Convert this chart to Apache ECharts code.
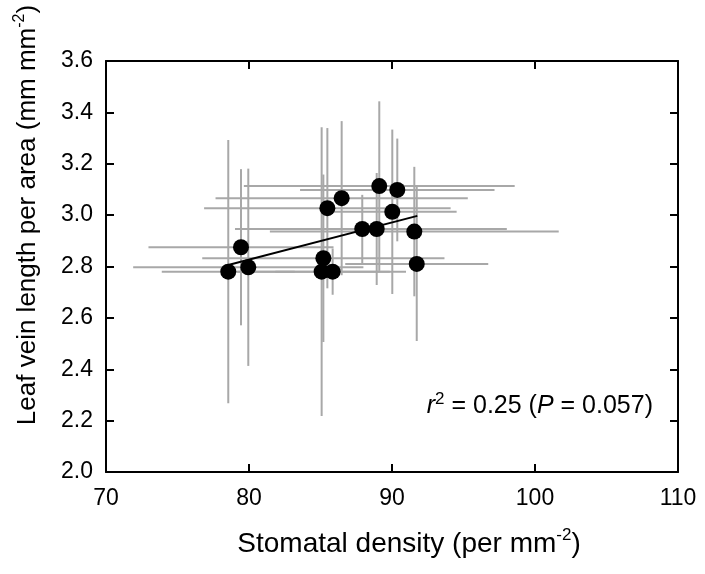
<!DOCTYPE html>
<html>
<head>
<meta charset="utf-8">
<script src="https://cdn.jsdelivr.net/npm/echarts@6/dist/echarts.min.js"></script>
<style>
    html, body { margin: 0; padding: 0; background: #fff; }
    #chart { width: 705px; height: 574px; }
</style>
</head>
<body>
<div id="chart"></div>
<script>
// stomatal density (per mm-2) and vein length per area, mean +- error
var xVals = [78.55, 79.44, 79.95, 85.20, 85.08, 85.85, 85.48, 86.48, 89.11, 90.37, 90.02, 87.92, 88.93, 91.56, 91.73];
var yVals = [2.780, 2.875, 2.797, 2.832, 2.780, 2.780, 3.027, 3.066, 3.113, 3.098, 3.013, 2.946, 2.946, 2.936, 2.810];
var xErr = [4.65, 6.47, 8.05, 8.47, 5.90, 4.00, 8.62, 8.82, 9.47, 6.80, 4.50, 8.90, 9.10, 10.1, 5.00];
var yErr = [0.512, 0.304, 0.384, 0.326, 0.562, 0.090, 0.312, 0.300, 0.330, 0.200, 0.320, 0.133, 0.218, 0.252, 0.300];

// regression line ends
var fitX = [78.55, 91.77];
var fitY = [2.806, 2.997];

var xTicks = [70, 80, 90, 100, 110];
var yTicks = [2.0, 2.2, 2.4, 2.6, 2.8, 3.0, 3.2, 3.4, 3.6];

var font = 'Liberation Sans, Arial, sans-serif';

var pts = xVals.map(function (x, i) { return [x, yVals[i]]; });
var bars = xVals.map(function (x, i) { return [x, yVals[i], xErr[i], yErr[i]]; });
var fit = fitX.map(function (x, i) { return [x, fitY[i]]; });

var myChart = echarts.init(document.getElementById('chart'), null, { renderer: 'canvas' });

var axisBase = {
    type: 'value',
    axisLine: { show: true, onZero: false, lineStyle: { color: '#000', width: 2 } },
    axisTick: { show: true, inside: true, length: 8, lineStyle: { color: '#000', width: 2 } },
    splitLine: { show: false }
};

function titleText(size, supSize) {
    return {
        n: { fontSize: size, fontFamily: font, fill: '#000', lineHeight: size + 6 },
        sup: { fontSize: supSize, fontFamily: font, fill: '#000', lineHeight: supSize, verticalAlign: 'top' }
    };
}

var option = {
    animation: false,
    backgroundColor: '#fff',
    grid: { left: 106, right: 27, top: 61, bottom: 102 },
    xAxis: [
        Object.assign({}, axisBase, {
            position: 'bottom',
            min: xTicks[0], max: xTicks[xTicks.length - 1], interval: 10,
            axisLabel: { fontSize: 23, color: '#000', fontFamily: font, margin: 15 }
        }),
        Object.assign({}, axisBase, {
            position: 'top',
            min: xTicks[0], max: xTicks[xTicks.length - 1], interval: 10,
            axisLabel: { show: false }
        })
    ],
    yAxis: [
        Object.assign({}, axisBase, {
            position: 'left',
            min: yTicks[0], max: yTicks[yTicks.length - 1], interval: 0.2,
            axisLabel: {
                fontSize: 23, color: '#000', fontFamily: font, margin: 13,
                formatter: function (v) { return v.toFixed(1); }
            }
        }),
        Object.assign({}, axisBase, {
            position: 'right',
            min: yTicks[0], max: yTicks[yTicks.length - 1], interval: 0.2,
            axisLabel: { show: false }
        })
    ],
    series: [{
        type: 'custom',
        data: bars,
        z: 1,
        silent: true,
        renderItem: function (params, api) {
            var x = api.value(0), y = api.value(1), ex = api.value(2), ey = api.value(3);
            var l = api.coord([x - ex, y]), r = api.coord([x + ex, y]);
            var t = api.coord([x, y + ey]), b = api.coord([x, y - ey]);
            var st = { stroke: '#a8a8a8', lineWidth: 2 };
            return {
                type: 'group',
                children: [
                    { type: 'line', shape: { x1: l[0], y1: l[1], x2: r[0], y2: r[1] }, style: st },
                    { type: 'line', shape: { x1: t[0], y1: t[1], x2: b[0], y2: b[1] }, style: st }
                ]
            };
        }
    }, {
        type: 'line',
        data: fit,
        z: 2,
        symbol: 'none',
        lineStyle: { color: '#000', width: 2 }
    }, {
        type: 'scatter',
        data: pts,
        z: 3,
        symbol: 'circle',
        symbolSize: 16,
        itemStyle: { color: '#000', opacity: 1 }
    }],
    graphic: [{
        // x axis title
        type: 'text',
        x: 409,
        y: 544,
        style: {
            text: '{n|Stomatal density (per mm}{sup|-2}{n|)}',
            align: 'center',
            verticalAlign: 'middle',
            rich: titleText(28, 17)
        }
    }, {
        // y axis title
        type: 'text',
        x: 28,
        y: 215,
        rotation: Math.PI / 2,
        style: {
            text: '{n|Leaf vein length per area (mm mm}{sup|-2}{n|)}',
            align: 'center',
            verticalAlign: 'middle',
            rich: titleText(26, 16)
        }
    }, {
        type: 'text',
        x: 653,
        y: 406,
        style: {
            text: '{i|r}{sup|2}{n| = 0.25 (}{i|P}{n| = 0.057)}',
            align: 'right',
            verticalAlign: 'middle',
            rich: {
                i: { fontSize: 25, fontStyle: 'italic', fontFamily: font, fill: '#000', lineHeight: 30 },
                n: { fontSize: 25, fontFamily: font, fill: '#000', lineHeight: 30 },
                sup: { fontSize: 17, fontFamily: font, fill: '#000', lineHeight: 17, verticalAlign: 'top' }
            }
        }
    }]
};

myChart.setOption(option);
window.addEventListener('resize', myChart.resize);
</script>
</body>
</html>
